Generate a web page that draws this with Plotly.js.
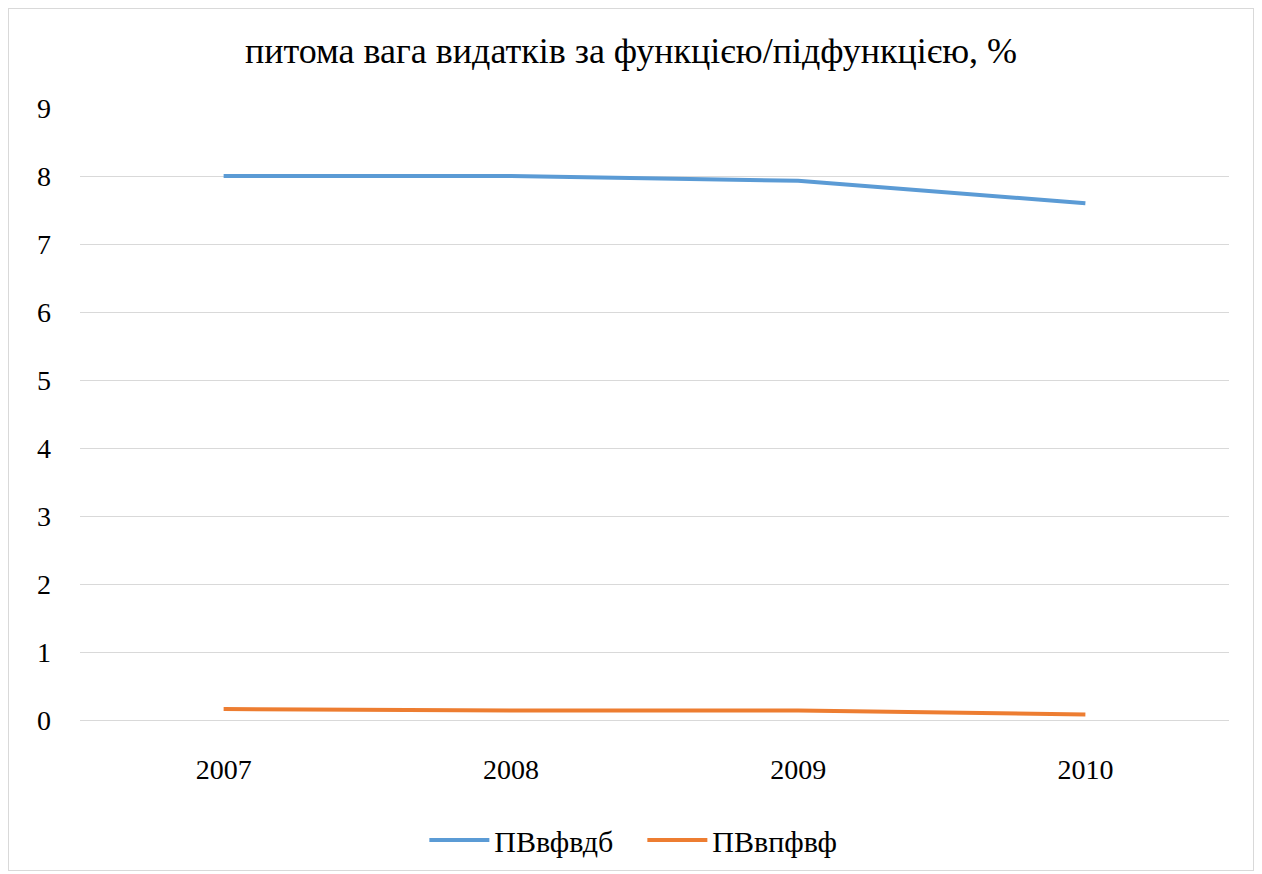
<!DOCTYPE html>
<html>
<head>
<meta charset="utf-8">
<script src="https://cdn.plot.ly/plotly-3.0.1.min.js"></script>
<style>
  body { margin: 0; background: #fff; }
  #frame { position: absolute; left: 8px; top: 8px; width: 1244px; height: 861px; border: 1px solid #d9d9d9; }
  #chart { position: absolute; left: 0; top: 0; width: 1262px; height: 874px; }
</style>
</head>
<body>
<div id="frame"></div>
<div id="chart"></div>
<script>
// роки
const years = ['2007', '2008', '2009', '2010'];
// ПВвфвдб
const pvVfvdb = [8.0, 8.0, 7.93, 7.6];
// ПВвпфвф
const pvVpfvf = [0.16, 0.14, 0.14, 0.08];

const serif = 'Liberation Serif';

const traces = [
  {
    x: years, y: pvVfvdb, name: 'ПВвфвдб',
    type: 'scatter', mode: 'lines',
    line: { color: '#5B9BD5', width: 4 }
  },
  {
    x: years, y: pvVpfvf, name: 'ПВвпфвф',
    type: 'scatter', mode: 'lines',
    line: { color: '#ED7D31', width: 4 }
  }
];

const layout = {
  width: 1262, height: 874,
  margin: { l: 80, r: 33, t: 108, b: 154 },
  paper_bgcolor: 'rgba(0,0,0,0)',
  plot_bgcolor: '#fff',
  font: { family: serif, color: '#000', size: 26 },
  title: {
    text: 'питома вага видатків за функцією/підфункцією, %',
    font: { family: serif, size: 36, color: '#000' },
    x: 0.5, xanchor: 'center', y: 0.942, yanchor: 'middle'
  },
  xaxis: {
    type: 'category', range: [-0.5, 3.5],
    showgrid: false, zeroline: false, showline: false,
    ticks: '', ticklabelstandoff: 30,
    tickfont: { family: serif, size: 28, color: '#000' }
  },
  yaxis: {
    range: [0, 9], dtick: 1,
    showgrid: true, gridcolor: '#d9d9d9', gridwidth: 1,
    zeroline: true, zerolinecolor: '#d9d9d9', zerolinewidth: 1,
    showline: false, ticks: '', ticklabelstandoff: 28,
    tickfont: { family: serif, size: 28, color: '#000' }
  },
  showlegend: true,
  legend: {
    orientation: 'h',
    xref: 'container', x: 0.509, xanchor: 'center',
    yref: 'container', y: 0.039, yanchor: 'middle',
    font: { family: serif, size: 30, color: '#000' },
    itemwidth: 60, entrywidth: 143, tracegroupgap: 0
  }
};

Plotly.newPlot('chart', traces, layout, { displayModeBar: false, staticPlot: true });
</script>
</body>
</html>
